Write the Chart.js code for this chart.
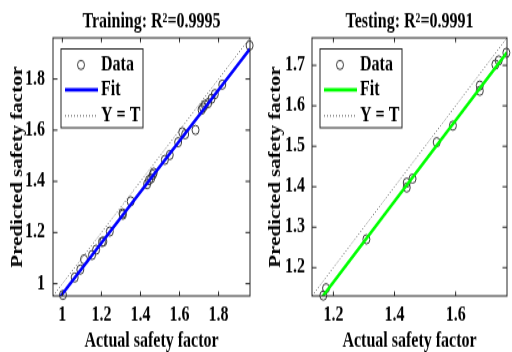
<!DOCTYPE html>
<html>
<head>
<meta charset="utf-8">
<script src="https://cdn.jsdelivr.net/npm/chart.js@4.4.0/dist/chart.umd.min.js"></script>
<style>
  html, body { margin: 0; padding: 0; background: #fff; width: 512px; height: 352px; overflow: hidden; }
  canvas { position: absolute; top: 0; }
</style>
</head>
<body>
<!-- drawn at 270px tall and stretched to 352px, like the squashed MATLAB export -->
<canvas id="train" width="256" height="270" style="left:0;width:256px;height:352px"></canvas>
<canvas id="test" width="256" height="270" style="left:256px;width:256px;height:352px"></canvas>
<script>
const FONT = "'Liberation Serif', 'Times New Roman', serif";
Chart.defaults.font.family = FONT;
Chart.defaults.color = '#000';

// Training set
const trainActual    = [1.003, 1.063, 1.092, 1.111, 1.152, 1.173, 1.203, 1.210, 1.243, 1.308, 1.310, 1.350,
                        1.434, 1.444, 1.455, 1.463, 1.468, 1.525, 1.550, 1.593, 1.614, 1.629, 1.682, 1.713,
                        1.721, 1.730, 1.747, 1.764, 1.781, 1.819, 1.959];
const trainPredicted = [0.956, 1.024, 1.055, 1.095, 1.112, 1.133, 1.163, 1.165, 1.204, 1.275, 1.270, 1.322,
                        1.389, 1.405, 1.412, 1.426, 1.434, 1.484, 1.503, 1.553, 1.592, 1.584, 1.601, 1.680,
                        1.689, 1.699, 1.706, 1.723, 1.741, 1.778, 1.931];
const trainFitX   = [0.952, 1.961];
const trainFitY   = [0.912, 1.918];
const trainLimits = [0.952, 1.961];
const trainTicksX = [1, 1.2, 1.4, 1.6, 1.8];
const trainTicksY = [1, 1.2, 1.4, 1.6, 1.8];

// Testing set
const testActual    = [1.167, 1.176, 1.308, 1.440, 1.440, 1.459, 1.538, 1.591, 1.679, 1.679, 1.730, 1.741, 1.766];
const testPredicted = [1.131, 1.149, 1.270, 1.398, 1.410, 1.420, 1.510, 1.551, 1.637, 1.650, 1.702, 1.712, 1.731];
const testFitX   = [1.13, 1.768];
const testFitY   = [1.094, 1.732];
const testLimits = [1.13, 1.768];
const testTicksX = [1.2, 1.4, 1.6];
const testTicksY = [1.2, 1.3, 1.4, 1.5, 1.6, 1.7];

const legendLabels = ['Data', 'Fit', 'Y = T'];

function pairs(xs, ys) {
  return xs.map((x, i) => ({ x: x, y: ys[i] }));
}

// axes box with inward ticks on all four sides
const framePlugin = {
  id: 'frame',
  afterDatasetsDraw(chart) {
    const { ctx, chartArea: a, scales: { x, y } } = chart;
    ctx.save();
    ctx.strokeStyle = '#262626';
    ctx.lineWidth = 1;
    ctx.strokeRect(a.left, a.top, a.right - a.left, a.bottom - a.top);
    ctx.beginPath();
    x.ticks.forEach(t => {
      const px = x.getPixelForValue(t.value);
      ctx.moveTo(px, a.bottom); ctx.lineTo(px, a.bottom - 3.5);
      ctx.moveTo(px, a.top); ctx.lineTo(px, a.top + 3.5);
    });
    y.ticks.forEach(t => {
      const py = y.getPixelForValue(t.value);
      ctx.moveTo(a.left, py); ctx.lineTo(a.left + 4.5, py);
      ctx.moveTo(a.right, py); ctx.lineTo(a.right - 4.5, py);
    });
    ctx.stroke();
    ctx.restore();
  }
};

// MATLAB style boxed legend in the upper left corner
const boxLegendPlugin = {
  id: 'boxLegend',
  afterDraw(chart) {
    const { ctx, chartArea: a } = chart;
    const bx = a.left + 8, by = a.top + 8.5, bw = 82, bh = 60.5;
    const rows = [12.3, 31.4, 51.4];
    ctx.save();
    ctx.fillStyle = '#fff';
    ctx.fillRect(bx, by, bw, bh);
    ctx.strokeStyle = '#262626';
    ctx.lineWidth = 1;
    ctx.strokeRect(bx, by, bw, bh);
    chart.data.datasets.forEach((ds, i) => {
      const ry = by + rows[i];
      ctx.save();
      ctx.strokeStyle = ds.borderColor;
      if (ds.showLine === false) {
        ctx.lineWidth = ds.pointBorderWidth;
        ctx.beginPath();
        ctx.arc(bx + 20, ry, ds.pointRadius, 0, Math.PI * 2);
        ctx.stroke();
      } else {
        ctx.lineWidth = ds.borderWidth;
        ctx.setLineDash(ds.borderDash || []);
        ctx.beginPath();
        ctx.moveTo(bx + 4, ry);
        ctx.lineTo(bx + 37, ry);
        ctx.stroke();
      }
      ctx.restore();
      ctx.fillStyle = '#000';
      ctx.font = 'bold 16px ' + FONT;
      ctx.textAlign = 'left';
      ctx.textBaseline = 'middle';
      ctx.fillText(ds.label, bx + 40, ry);
    });
    ctx.restore();
  }
};

function createRegressionChart(canvasId, cfg) {
  const tickFont = { size: 16, weight: 'bold', lineHeight: 1 };
  return new Chart(document.getElementById(canvasId), {
    type: 'scatter',
    data: {
      datasets: [
        {
          label: legendLabels[0],
          data: pairs(cfg.actual, cfg.predicted),
          showLine: false,
          pointStyle: 'circle',
          pointRadius: 3.5,
          pointBorderWidth: 1,
          borderColor: '#3a3a3a',
          backgroundColor: 'rgba(0,0,0,0)',
          pointBackgroundColor: 'rgba(0,0,0,0)',
          pointBorderColor: '#3a3a3a',
          clip: 8,
          order: 1
        },
        {
          label: legendLabels[1],
          data: pairs(cfg.fitX, cfg.fitY),
          showLine: true,
          borderColor: cfg.fitColor,
          borderWidth: 2.6,
          pointRadius: 0,
          order: 0
        },
        {
          label: legendLabels[2],
          data: pairs(cfg.limits, cfg.limits),
          showLine: true,
          borderColor: '#555',
          borderWidth: 1,
          borderDash: [1, 2],
          pointRadius: 0,
          order: 2
        }
      ]
    },
    options: {
      responsive: false,
      animation: false,
      layout: { padding: { left: 0, right: cfg.padRight, top: 0, bottom: 0 } },
      plugins: {
        legend: { display: false },
        tooltip: { enabled: false },
        title: {
          display: true,
          text: cfg.title,
          fullSize: false,
          color: '#000',
          font: { size: 16, weight: 'bold', lineHeight: 1 },
          padding: { top: 9, bottom: 4 }
        }
      },
      scales: {
        x: {
          type: 'linear',
          position: 'bottom',
          min: cfg.limits[0],
          max: cfg.limits[1],
          afterBuildTicks: s => { s.ticks = cfg.ticksX.map(v => ({ value: v })); },
          afterFit: s => { s.height = 43; },
          grid: { display: false, drawTicks: false },
          border: { display: false },
          ticks: { font: tickFont, color: '#000', padding: 7, maxRotation: 0, autoSkip: false, callback: v => String(v) },
          title: { display: true, text: 'Actual safety factor', color: '#000', font: tickFont, padding: 0 }
        },
        y: {
          type: 'linear',
          position: 'left',
          min: cfg.limits[0],
          max: cfg.limits[1],
          afterBuildTicks: s => { s.ticks = cfg.ticksY.map(v => ({ value: v })); },
          afterFit: s => { s.width = cfg.yWidth; },
          grid: { display: false, drawTicks: false },
          border: { display: false },
          ticks: { font: tickFont, color: '#000', padding: cfg.yPad, autoSkip: false, callback: v => String(v) },
          title: { display: true, text: 'Predicted safety factor', color: '#000', font: tickFont, padding: { top: cfg.yTitlePad, bottom: 0 } }
        }
      }
    },
    plugins: [framePlugin, boxLegendPlugin]
  });
}

createRegressionChart('train', {
  title: 'Training: R\u00B2=0.9995',
  actual: trainActual, predicted: trainPredicted,
  fitX: trainFitX, fitY: trainFitY, limits: trainLimits,
  ticksX: trainTicksX, ticksY: trainTicksY,
  fitColor: '#0000ff',
  padRight: 6, yWidth: 53, yPad: 8, yTitlePad: 10
});

createRegressionChart('test', {
  title: 'Testing: R\u00B2=0.9991',
  actual: testActual, predicted: testPredicted,
  fitX: testFitX, fitY: testFitY, limits: testLimits,
  ticksX: testTicksX, ticksY: testTicksY,
  fitColor: '#00ff00',
  padRight: 3, yWidth: 56, yPad: 7, yTitlePad: 12
});
</script>
</body>
</html>
